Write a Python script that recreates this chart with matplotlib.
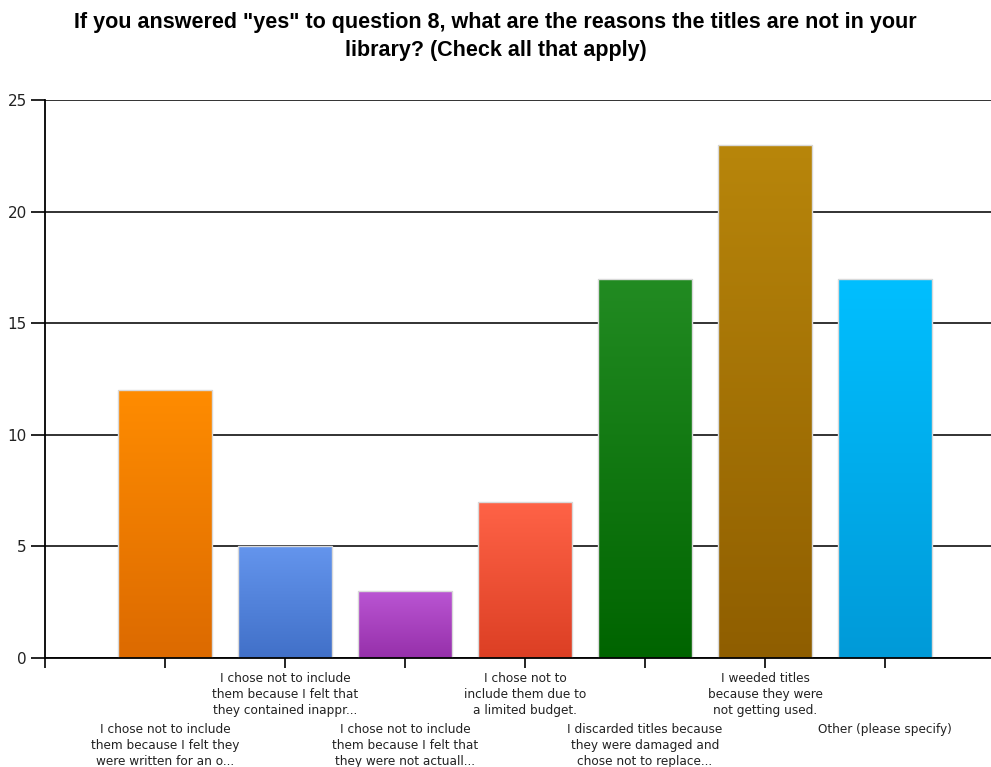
import numpy as np
import matplotlib
matplotlib.use('Agg')
import matplotlib.pyplot as plt
from matplotlib.colors import LinearSegmentedColormap
from matplotlib.transforms import blended_transform_factory

title = 'If you answered "yes" to question 8, what are the reasons the titles are not in your\nlibrary? (Check all that apply)'
labels = [
    'I chose not to include\nthem because I felt they\nwere written for an o...',
    'I chose not to include\nthem because I felt that\nthey contained inappr...',
    'I chose not to include\nthem because I felt that\nthey were not actuall...',
    'I chose not to\ninclude them due to\na limited budget.',
    'I discarded titles because\nthey were damaged and\nchose not to replace...',
    'I weeded titles\nbecause they were\nnot getting used.',
    'Other (please specify)',
]
counts = [12, 5, 3, 7, 17, 23, 17]
top_colors = ['#ff8c00', '#6495ed', '#ba55d3', '#ff6347', '#228b22', '#b8860b', '#00bfff']
bottom_colors = ['#dc6a00', '#4170c8', '#9630aa', '#dc3f24', '#006400', '#8f5e00', '#009ad8']

fig = plt.figure(figsize=(9.91, 7.67), dpi=100)
ax = fig.add_axes([45 / 991, 1 - 658 / 767, 1 - 45 / 991, (658 - 100) / 767])

x = np.arange(1, len(counts) + 1)
bars = ax.bar(x, counts, width=0.79, color='none', edgecolor='#d9d9d9', linewidth=1.0, zorder=3)

# vertical gradient inside each bar
for b, c_top, c_bot in zip(bars, top_colors, bottom_colors):
    cmap = LinearSegmentedColormap.from_list('g', [c_bot, c_top])
    grad = np.linspace(0, 1, 256).reshape(-1, 1)
    x0 = b.get_x()
    w = b.get_width()
    h = b.get_height()
    im = ax.imshow(grad, cmap=cmap, origin='lower', aspect='auto',
                   extent=[x0, x0 + w, 0, h], zorder=2.5)
    im.set_clip_path(b)

ax.set_xlim(0, (991 - 45) / 120)
ax.set_ylim(0, 25)
ax.set_yticks([0, 5, 10, 15, 20, 25])
ax.set_xticks(np.arange(0, len(counts) + 1))
ax.set_xticklabels([])
ax.grid(axis='y', color='#222222', linewidth=1.3, zorder=1)
ax.set_axisbelow(True)

for s in ['top', 'right']:
    ax.spines[s].set_visible(False)
ax.spines['left'].set_linewidth(1.3)
ax.spines['bottom'].set_linewidth(1.3)
ax.spines['left'].set_zorder(4)
ax.spines['bottom'].set_zorder(4)
ax.tick_params(axis='y', length=10, width=1.2, labelsize=11, pad=3, labelcolor='#222222')
ax.tick_params(axis='x', length=7, width=1.2)

# staggered category labels
trans = blended_transform_factory(ax.transData, fig.transFigure)
for i, lab in enumerate(labels):
    ypix = 723 if i % 2 == 0 else 672
    ax.text(x[i], 1 - ypix / 767, lab, transform=trans, ha='center', va='top',
            fontsize=8.7, family='DejaVu Sans', color='#222222', linespacing=1.3)

fig.text(0.5, 1 - 12 / 767, title, ha='center', va='top', fontsize=15.5,
         fontweight='bold', family='Liberation Sans', linespacing=1.45)

fig.savefig('out.png', dpi=100)
